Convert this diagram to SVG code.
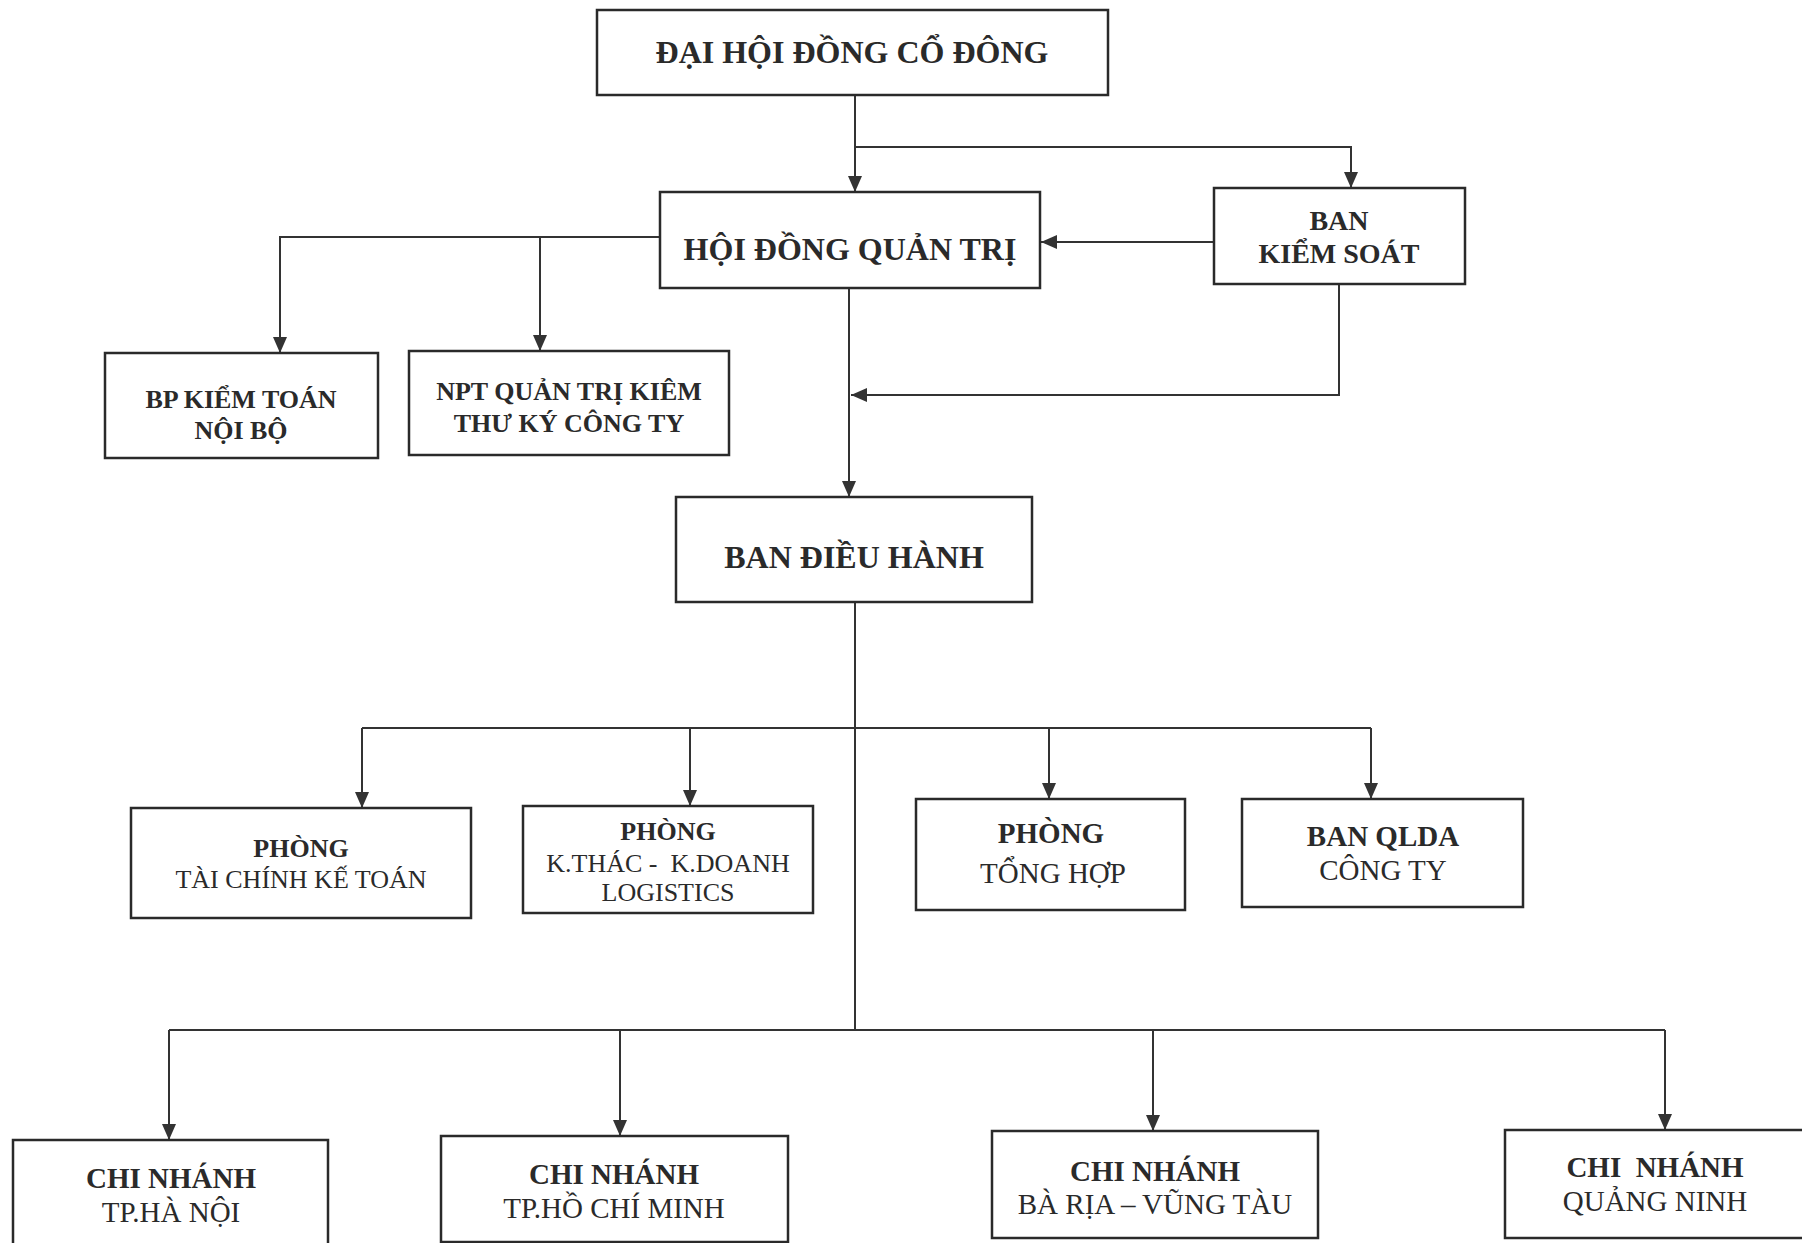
<svg xmlns="http://www.w3.org/2000/svg" width="1802" height="1243" viewBox="0 0 1802 1243">
<style>
.box{fill:#fff;stroke:#2a2a2a;stroke-width:2.5}
.c{fill:none;stroke:#333;stroke-width:2}
text{font-family:"Liberation Serif","Times New Roman",serif;fill:#2a2a2a;text-anchor:middle}
.b{font-weight:bold}
.f32{font-size:32px}.f28{font-size:28px}.f26{font-size:26px}.f29{font-size:29px}
</style>
<defs>
<marker id="ah" viewBox="0 0 16 14" refX="16" refY="7" markerWidth="16" markerHeight="14" markerUnits="userSpaceOnUse" orient="auto">
<path d="M0,0 L16,7 L0,14 z" fill="#333"/>
</marker>
</defs>
<rect width="1802" height="1243" fill="#fff"/>
<g id="connectors">
<path class="c" d="M855,95 V192" marker-end="url(#ah)"/>
<path class="c" d="M855,147 H1351 V188" marker-end="url(#ah)"/>
<path class="c" d="M1214,242 H1041" marker-end="url(#ah)"/>
<path class="c" d="M660,237 H280 V353" marker-end="url(#ah)"/>
<path class="c" d="M540,237 V351" marker-end="url(#ah)"/>
<path class="c" d="M849,288 V497" marker-end="url(#ah)"/>
<path class="c" d="M1339,284 V395 H851" marker-end="url(#ah)"/>
<path class="c" d="M855,602 V1030"/>
<path class="c" d="M362,728 H1371"/>
<path class="c" d="M362,728 V808" marker-end="url(#ah)"/>
<path class="c" d="M690,728 V806" marker-end="url(#ah)"/>
<path class="c" d="M1049,728 V799" marker-end="url(#ah)"/>
<path class="c" d="M1371,728 V799" marker-end="url(#ah)"/>
<path class="c" d="M169,1030 H1665"/>
<path class="c" d="M169,1030 V1140" marker-end="url(#ah)"/>
<path class="c" d="M620,1030 V1136" marker-end="url(#ah)"/>
<path class="c" d="M1153,1030 V1131" marker-end="url(#ah)"/>
<path class="c" d="M1665,1030 V1130" marker-end="url(#ah)"/>
</g>
<g id="dhdcd"><rect class="box" x="597" y="10" width="511" height="85"/><text class="b f32" x="852" y="63">ĐẠI HỘI ĐỒNG CỔ ĐÔNG</text></g>
<g id="hdqt"><rect class="box" x="660" y="192" width="380" height="96"/><text class="b f32" x="850" y="260">HỘI ĐỒNG QUẢN TRỊ</text></g>
<g id="bks"><rect class="box" x="1214" y="188" width="251" height="96"/><text class="b f28" x="1339" y="230">BAN</text><text class="b f28" x="1339" y="263">KIỂM SOÁT</text></g>
<g id="bpkt"><rect class="box" x="105" y="353" width="273" height="105"/><text class="b f26" x="241" y="408">BP KIỂM TOÁN</text><text class="b f26" x="241" y="439">NỘI BỘ</text></g>
<g id="npt"><rect class="box" x="409" y="351" width="320" height="104"/><text class="b f26" x="569" y="400">NPT QUẢN TRỊ KIÊM</text><text class="b f26" x="569" y="432">THƯ KÝ CÔNG TY</text></g>
<g id="bdh"><rect class="box" x="676" y="497" width="356" height="105"/><text class="b f32" x="854" y="568">BAN ĐIỀU HÀNH</text></g>
<g id="tckt"><rect class="box" x="131" y="808" width="340" height="110"/><text class="b f26" x="301" y="857">PHÒNG</text><text class="f26" x="301" y="888">TÀI CHÍNH KẾ TOÁN</text></g>
<g id="kthac"><rect class="box" x="523" y="806" width="290" height="107"/><text class="b f26" x="668" y="840">PHÒNG</text><text class="f26" x="668" y="872" xml:space="preserve">K.THÁC -  K.DOANH</text><text class="f26" x="668" y="901">LOGISTICS</text></g>
<g id="tonghop"><rect class="box" x="916" y="799" width="269" height="111"/><text class="b f29" x="1051" y="843">PHÒNG</text><text class="f29" x="1053" y="883">TỔNG HỢP</text></g>
<g id="qlda"><rect class="box" x="1242" y="799" width="281" height="108"/><text class="b f29" x="1383" y="846">BAN QLDA</text><text class="f29" x="1383" y="880">CÔNG TY</text></g>
<g id="cnhn"><rect class="box" x="13" y="1140" width="315" height="130"/><text class="b f29" x="171" y="1188">CHI NHÁNH</text><text class="f29" x="171" y="1222">TP.HÀ NỘI</text></g>
<g id="cnhcm"><rect class="box" x="441" y="1136" width="347" height="106"/><text class="b f29" x="614" y="1184">CHI NHÁNH</text><text class="f29" x="614" y="1218">TP.HỒ CHÍ MINH</text></g>
<g id="cnbrvt"><rect class="box" x="992" y="1131" width="326" height="107"/><text class="b f29" x="1155" y="1181">CHI NHÁNH</text><text class="f29" x="1155" y="1214">BÀ RỊA – VŨNG TÀU</text></g>
<g id="cnqn"><rect class="box" x="1505" y="1130" width="310" height="108"/><text class="b f29" x="1655" y="1177" xml:space="preserve">CHI  NHÁNH</text><text class="f29" x="1655" y="1211">QUẢNG NINH</text></g>
</svg>
